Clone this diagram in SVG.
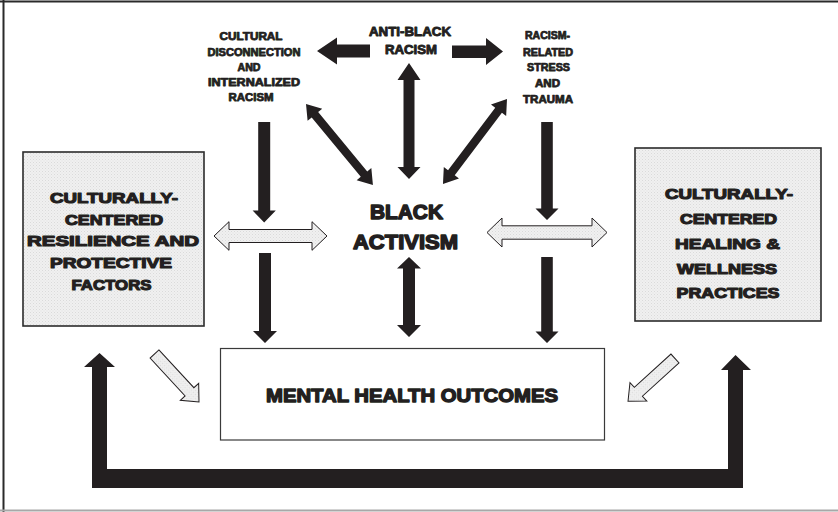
<svg xmlns="http://www.w3.org/2000/svg" width="838" height="512" viewBox="0 0 838 512">
  <defs>
    <pattern id="halftone" width="3" height="3" patternUnits="userSpaceOnUse">
      <rect width="3" height="3" fill="#f0f0f0"/>
      <rect x="0" y="0" width="1" height="1" fill="#dadada"/>
      <rect x="1.5" y="1.5" width="1" height="1" fill="#e0e0e0"/>
    </pattern>
    <style>
      .lbl { font-family: "Liberation Sans", Arial, sans-serif; font-weight: bold; fill: #231f20; stroke: #231f20; stroke-linejoin: round; text-anchor: middle; }
      .s10 { font-size: 10px; stroke-width: 0.75; }
      .s12 { font-size: 12px; stroke-width: 0.85; }
      .s15 { font-size: 15.5px; stroke-width: 1.2; }
      .s21 { font-size: 21px; stroke-width: 1.5; }
      .s19 { font-size: 19px; stroke-width: 1.35; }
      .dark { fill: #231f20; stroke: none; }
      .light { fill: url(#halftone); stroke: #231f20; stroke-width: 1; stroke-linejoin: miter; }
      .box { fill: url(#halftone); stroke: #2b2b2b; stroke-width: 1.6; }
      .plain { fill: #ffffff; stroke: #3a3a3a; stroke-width: 1.2; }
    </style>
  </defs>

  <rect width="838" height="512" fill="#ffffff"/>

  <!-- outer frame -->
  <g id="frame">
    <line x1="0" y1="1.5" x2="838" y2="1.5" stroke="#2a2a2a" stroke-width="2"/>
    <line x1="3.5" y1="0" x2="3.5" y2="512" stroke="#2a2a2a" stroke-width="2"/>
    <line x1="0" y1="510.5" x2="838" y2="510.5" stroke="#a8a8a8" stroke-width="2"/>
  </g>

  <!-- connectors -->
  <g id="connectors">
    <!-- anti-black racism to the two upper factors -->
    <polygon class="dark" points="317,51 337,37.5 337,44.5 370,44.5 370,57.5 337,57.5 337,64.5"/>
    <polygon class="dark" points="452,45.5 486,45.5 486,38 503,51.5 486,65 486,58 452,58"/>
    <!-- anti-black racism <-> black activism -->
    <polygon class="dark" points="409,63 420.5,80 414.5,80 414.5,167 420.5,167 409,179 397.5,167 403.5,167 403.5,80 397.5,80"/>
    <!-- diagonal links to black activism -->
    <polygon class="dark" transform="translate(306,104) rotate(50.4)" points="0,0 14,-9.5 14,-4.2 91,-4.2 91,-9.5 105,0 91,9.5 91,4.2 14,4.2 14,9.5"/>
    <polygon class="dark" transform="translate(507,99) rotate(127)" points="0,0 14,-9.5 14,-4.2 92.4,-4.2 92.4,-9.5 106.4,0 92.4,9.5 92.4,4.2 14,4.2 14,9.5"/>
    <!-- left column -->
    <polygon class="dark" points="258.2,122 270.2,122 270.2,210.5 275.8,210.5 264.2,222.5 252.6,210.5 258.2,210.5"/>
    <polygon class="dark" points="259,253 271,253 271,331 277,331 265,343 253,331 259,331"/>
    <!-- black activism <-> mental health outcomes -->
    <polygon class="dark" points="409,257 421,268.5 415,268.5 415,325 421,325 409,337 397,325 403,325 403,268.5 397,268.5"/>
    <!-- right column -->
    <polygon class="dark" points="541.2,122 552.8,122 552.8,208.5 558.5,208.5 547,220 535.5,208.5 541.2,208.5"/>
    <polygon class="dark" points="541.2,257 552.8,257 552.8,331.5 558.5,331.5 547,343 535.5,331.5 541.2,331.5"/>
    <!-- light two-way links to the side boxes -->
    <polygon class="light" points="214,236 229,221.7 229,229.5 312,229.5 312,221.7 327,236 312,250.3 312,242.5 229,242.5 229,250.3"/>
    <polygon class="light" points="487,232.5 502,218 502,225.8 592,225.8 592,218 607,232.5 592,247 592,239.2 502,239.2 502,247"/>
    <!-- light links into mental health outcomes -->
    <polygon class="light" transform="translate(154.5,354) rotate(47.2)" points="0,-6 51.5,-6 51.5,-12.5 65.5,0 51.5,12.5 51.5,6 0,6"/>
    <polygon class="light" transform="translate(675,358.5) rotate(137.7)" points="0,-6 49.5,-6 49.5,-12.5 63.5,0 49.5,12.5 49.5,6 0,6"/>
    <!-- feedback loop under the outcomes -->
    <polygon class="dark" points="92,488 92,367 84,367 99.5,353 115,367 107,367 107,469 728,469 728,370 721,370 735.5,355 751,370 743,370 743,488"/>
  </g>

  <g id="anti-black-racism">
    <text class="lbl s12" x="410" y="36" textLength="82" lengthAdjust="spacingAndGlyphs">ANTI-BLACK</text>
    <text class="lbl s12" x="411" y="54" textLength="52" lengthAdjust="spacingAndGlyphs">RACISM</text>
  </g>

  <g id="cultural-disconnection">
    <text class="lbl s10" x="251" y="39.5" textLength="63" lengthAdjust="spacingAndGlyphs">CULTURAL</text>
    <text class="lbl s10" x="254" y="55.5" textLength="93" lengthAdjust="spacingAndGlyphs">DISCONNECTION</text>
    <text class="lbl s10" x="249" y="70.5" textLength="23" lengthAdjust="spacingAndGlyphs">AND</text>
    <text class="lbl s10" x="254" y="85.5" textLength="92" lengthAdjust="spacingAndGlyphs">INTERNALIZED</text>
    <text class="lbl s10" x="251" y="100.5" textLength="45" lengthAdjust="spacingAndGlyphs">RACISM</text>
  </g>

  <g id="racism-related-stress">
    <text class="lbl s10" x="547.5" y="38.5" textLength="45" lengthAdjust="spacingAndGlyphs">RACISM-</text>
    <text class="lbl s10" x="548" y="55.5" textLength="50" lengthAdjust="spacingAndGlyphs">RELATED</text>
    <text class="lbl s10" x="548.5" y="70.5" textLength="43" lengthAdjust="spacingAndGlyphs">STRESS</text>
    <text class="lbl s10" x="547.5" y="86.5" textLength="25" lengthAdjust="spacingAndGlyphs">AND</text>
    <text class="lbl s10" x="548" y="102.5" textLength="50" lengthAdjust="spacingAndGlyphs">TRAUMA</text>
  </g>

  <g id="black-activism">
    <text class="lbl s21" x="406.5" y="218.5" textLength="73" lengthAdjust="spacingAndGlyphs">BLACK</text>
    <text class="lbl s21" x="405.5" y="248.5" textLength="105" lengthAdjust="spacingAndGlyphs">ACTIVISM</text>
  </g>

  <g id="resilience-factors">
    <rect class="box" x="23" y="152" width="181" height="174"/>
    <text class="lbl s15" x="114" y="203" textLength="128" lengthAdjust="spacingAndGlyphs">CULTURALLY-</text>
    <text class="lbl s15" x="114" y="224.5" textLength="98" lengthAdjust="spacingAndGlyphs">CENTERED</text>
    <text class="lbl s15" x="113" y="246" textLength="172" lengthAdjust="spacingAndGlyphs">RESILIENCE AND</text>
    <text class="lbl s15" x="111" y="268" textLength="122" lengthAdjust="spacingAndGlyphs">PROTECTIVE</text>
    <text class="lbl s15" x="111.5" y="289.5" textLength="80" lengthAdjust="spacingAndGlyphs">FACTORS</text>
  </g>

  <g id="healing-practices">
    <rect class="box" x="635" y="148" width="186" height="173"/>
    <text class="lbl s15" x="729" y="199" textLength="128" lengthAdjust="spacingAndGlyphs">CULTURALLY-</text>
    <text class="lbl s15" x="728.5" y="223.5" textLength="97" lengthAdjust="spacingAndGlyphs">CENTERED</text>
    <text class="lbl s15" x="727.5" y="248.5" textLength="105" lengthAdjust="spacingAndGlyphs">HEALING &amp;</text>
    <text class="lbl s15" x="727" y="273.5" textLength="100" lengthAdjust="spacingAndGlyphs">WELLNESS</text>
    <text class="lbl s15" x="728" y="298" textLength="103" lengthAdjust="spacingAndGlyphs">PRACTICES</text>
  </g>

  <g id="mental-health-outcomes">
    <rect class="plain" x="220.5" y="348.5" width="384" height="91.5"/>
    <text class="lbl s19" x="412" y="401.5" textLength="292" lengthAdjust="spacingAndGlyphs">MENTAL HEALTH OUTCOMES</text>
  </g>
</svg>
